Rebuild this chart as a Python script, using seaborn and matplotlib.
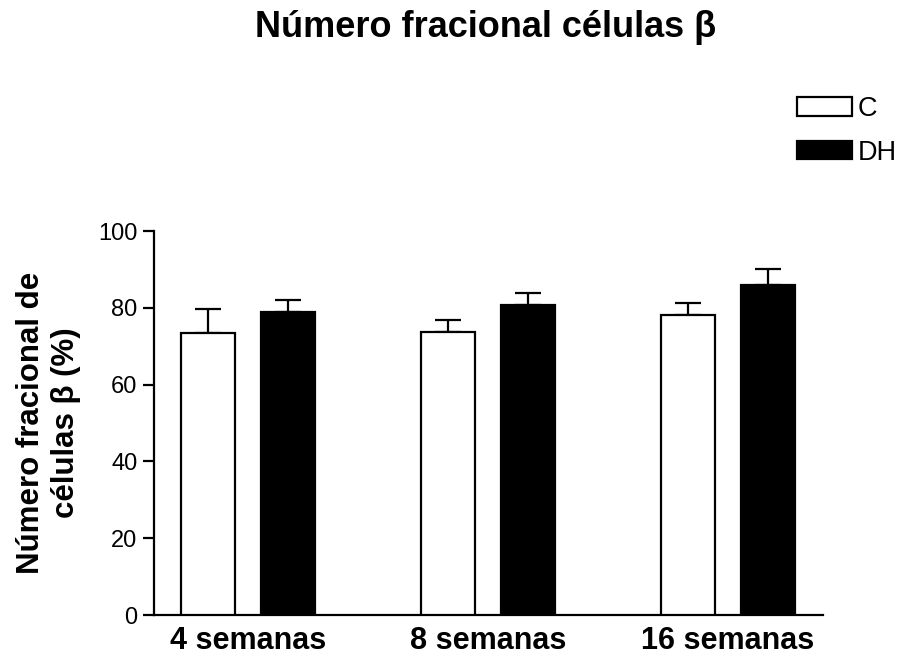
import matplotlib
matplotlib.use("Agg")
import matplotlib.pyplot as plt
from matplotlib.patches import Patch
import seaborn as sns
import pandas as pd
import numpy as np

# Fractional beta-cell number (%) per age group, mean and SEM
semanas = ["4 semanas", "8 semanas", "16 semanas"]
grupos = ["C", "DH"]
media_c = [73.4, 73.7, 78.2]
media_dh = [79.0, 80.7, 86.0]
sem_c = [6.3, 3.0, 3.1]
sem_dh = [3.1, 3.2, 4.1]
yticks = [0, 20, 40, 60, 80, 100]

sns.set_theme(style="ticks")
plt.rcParams["font.family"] = ["Liberation Sans", "DejaVu Sans"]
plt.rcParams["text.color"] = "black"
plt.rcParams["axes.labelcolor"] = "black"
plt.rcParams["xtick.color"] = "black"
plt.rcParams["ytick.color"] = "black"
plt.rcParams["axes.edgecolor"] = "black"

df = pd.DataFrame({
    "semana": semanas * 2,
    "grupo": ["C"] * 3 + ["DH"] * 3,
    "media": media_c + media_dh,
})
errores = {"C": sem_c, "DH": sem_dh}

fig = plt.figure(figsize=(9.14, 6.57), dpi=100)
ax = fig.add_axes([154 / 914, 1 - 615 / 657, (823 - 154) / 914, (615 - 231) / 657])

sns.barplot(
    data=df, x="semana", y="media", hue="grupo",
    order=semanas, hue_order=grupos,
    palette={"C": "white", "DH": "black"},
    edgecolor="black", linewidth=1.6,
    width=0.6667, gap=0.325, errorbar=None,
    legend=False, ax=ax, zorder=3,
)

# upper-only SEM whiskers on each bar
for grupo, cont in zip(grupos, ax.containers):
    xs = [p.get_x() + p.get_width() / 2 for p in cont.patches]
    hs = [p.get_height() for p in cont.patches]
    err = errores[grupo]
    ax.errorbar(xs, hs, yerr=[np.zeros(len(err)), err], fmt="none",
                ecolor="black", elinewidth=1.6, capsize=9.7, capthick=1.6,
                zorder=2)

ax.set_xlim(-0.392, 2.396)
ax.set_ylim(0, 100)
ax.set_yticks(yticks)
ax.set_xlabel("")
ax.set_ylabel("Número fracional de\ncélulas β (%)", fontsize=22.5,
              fontweight="bold", labelpad=12, linespacing=1.25)

for side in ["top", "right"]:
    ax.spines[side].set_visible(False)
for side in ["left", "bottom"]:
    ax.spines[side].set_linewidth(1.6)
    ax.spines[side].set_color("black")

ax.tick_params(axis="y", length=8, width=1.6, color="black",
               labelsize=17, pad=4, labelcolor="black")
ax.tick_params(axis="x", length=0, labelsize=22, pad=8, labelcolor="black")
for lbl in ax.get_xticklabels():
    lbl.set_fontweight("bold")

fig.text(486 / 914, 1 - 37 / 657, "Número fracional células β",
         fontsize=26, fontweight="bold", ha="center", va="baseline")

handles = [Patch(facecolor="white", edgecolor="black", linewidth=1.6),
           Patch(facecolor="black", edgecolor="black", linewidth=1.6)]
fig.legend(handles, grupos, loc="upper left",
           bbox_to_anchor=(797 / 914, 1 - 96 / 657),
           frameon=False, fontsize=19.5, handlelength=2.04,
           handleheight=0.67, handletextpad=0.2, labelspacing=0.65,
           borderpad=0, borderaxespad=0)

fig.savefig("out.png", dpi=100)
